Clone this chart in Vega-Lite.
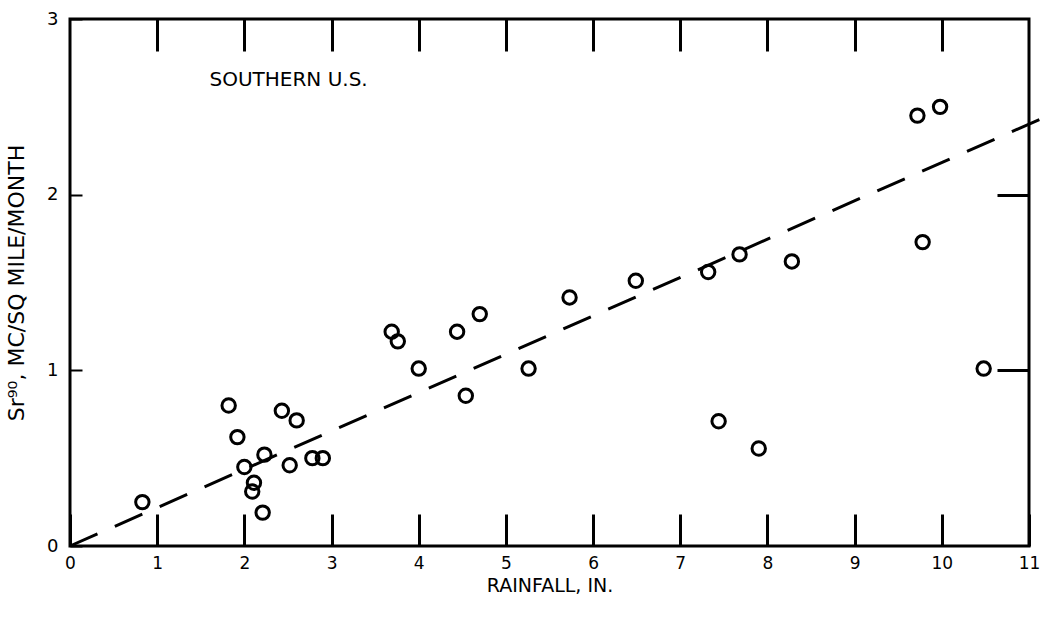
{
  "$schema": "https://vega.github.io/schema/vega-lite/v6.json",
  "width": 959,
  "height": 527,
  "autosize": "none",
  "padding": {"left": 70, "top": 19, "right": 18, "bottom": 74},
  "background": "white",
  "config": {
    "view": {"stroke": "black", "strokeWidth": 3},
    "font": "DejaVu Sans",
    "axis": {"labelFont": "DejaVu Sans", "titleFont": "DejaVu Sans", "labelColor": "black", "titleColor": "black", "tickColor": "black", "grid": false, "domain": false}
  },
  "datasets": {
    "points": [
      {"rain": 0.83, "sr": 0.25},
      {"rain": 1.82, "sr": 0.80},
      {"rain": 1.92, "sr": 0.62},
      {"rain": 2.0, "sr": 0.45},
      {"rain": 2.11, "sr": 0.36},
      {"rain": 2.09, "sr": 0.31},
      {"rain": 2.21, "sr": 0.19},
      {"rain": 2.23, "sr": 0.52},
      {"rain": 2.43, "sr": 0.77},
      {"rain": 2.6, "sr": 0.715},
      {"rain": 2.52, "sr": 0.46},
      {"rain": 2.78, "sr": 0.50},
      {"rain": 2.9, "sr": 0.50},
      {"rain": 3.69, "sr": 1.22},
      {"rain": 3.76, "sr": 1.165},
      {"rain": 4.0, "sr": 1.01},
      {"rain": 4.44, "sr": 1.22},
      {"rain": 4.7, "sr": 1.32},
      {"rain": 4.54, "sr": 0.855},
      {"rain": 5.26, "sr": 1.01},
      {"rain": 5.73, "sr": 1.415},
      {"rain": 6.49, "sr": 1.51},
      {"rain": 7.32, "sr": 1.56},
      {"rain": 7.68, "sr": 1.66},
      {"rain": 8.28, "sr": 1.62},
      {"rain": 7.44, "sr": 0.71},
      {"rain": 7.9, "sr": 0.555},
      {"rain": 9.72, "sr": 2.45},
      {"rain": 9.98, "sr": 2.50},
      {"rain": 9.78, "sr": 1.73},
      {"rain": 10.48, "sr": 1.01}
    ],
    "fit": [
      {"rain": 0, "sr": 0},
      {"rain": 11.13, "sr": 2.43}
    ],
    "note": [
      {"rain": 1.6, "sr": 2.65, "label": "SOUTHERN U.S."}
    ]
  },
  "layer": [
    {
      "data": {"name": "fit"},
      "mark": {"type": "line", "color": "black", "strokeWidth": 3, "strokeDash": [30, 19], "clip": false},
      "encoding": {
        "x": {
          "field": "rain", "type": "quantitative",
          "scale": {"domain": [0, 11], "nice": false, "zero": false},
          "axis": {"orient": "bottom", "values": [0,1,2,3,4,5,6,7,8,9,10,11], "format": "d", "tickSize": -32, "tickWidth": 3, "labelFontSize": 17, "labelPadding": 41, "title": "RAINFALL, IN.", "titleFontSize": 19, "titleFontWeight": "normal", "titlePadding": 5, "labelFlush": false}
        },
        "y": {
          "field": "sr", "type": "quantitative",
          "scale": {"domain": [0, 3], "nice": false, "zero": false},
          "axis": {"orient": "left", "values": [0,1,2,3], "format": "d", "tickSize": -12, "tickWidth": 2, "labelFontSize": 18, "labelPadding": 24, "title": "Sr⁹⁰, MC/SQ MILE/MONTH", "titleFontSize": 22, "titleFontWeight": "normal", "titlePadding": 18, "labelFlush": false}
        }
      }
    },
    {
      "data": {"name": "points"},
      "mark": {"type": "point", "shape": "circle", "filled": false, "color": "black", "size": 180, "strokeWidth": 3, "opacity": 1},
      "encoding": {
        "x": {"field": "rain", "type": "quantitative", "axis": {"orient": "top", "values": [1,2,3,4,5,6,7,8,9,10], "tickSize": -32, "tickWidth": 3, "labels": false, "title": null}},
        "y": {"field": "sr", "type": "quantitative", "axis": {"orient": "right", "values": [1,2], "tickSize": -32, "tickWidth": 3, "labels": false, "title": null}}
      }
    },
    {
      "data": {"name": "note"},
      "mark": {"type": "text", "align": "left", "baseline": "middle", "fontSize": 20, "color": "black"},
      "encoding": {
        "x": {"field": "rain", "type": "quantitative", "axis": null},
        "y": {"field": "sr", "type": "quantitative", "axis": null},
        "text": {"field": "label"}
      }
    }
  ],
  "resolve": {"axis": {"x": "independent", "y": "independent"}}
}
